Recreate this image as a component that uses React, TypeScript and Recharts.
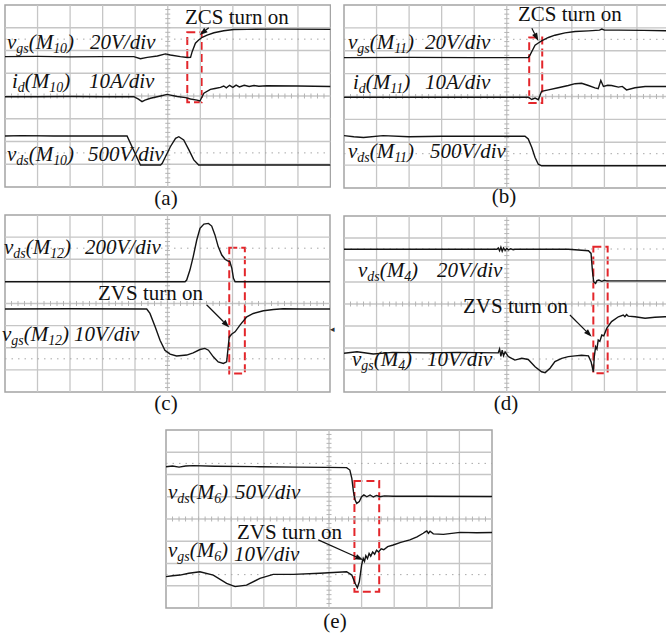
import React from 'react';
import { LineChart, Line, XAxis, YAxis, ReferenceLine, ReferenceArea } from 'recharts';

type Pt = [number, number];

// Screen units: x in horizontal divisions (0..10), y in vertical divisions (0..8, bottom = 0)

// (a) M10
const vgsM10: Pt[] = [
  [0, 5.73], [1.0, 5.74], [2.0, 5.72], [3.0, 5.73], [3.96, 5.73], [4.16, 5.64], [4.37, 5.7], [4.68, 5.76],
  [4.93, 5.85], [5.08, 5.8], [5.39, 5.73], [5.6, 5.69], [5.7, 5.7], [5.75, 5.95], [5.85, 6.32], [5.95, 6.46],
  [6.06, 6.58], [6.21, 6.68], [6.42, 6.78], [6.72, 6.87], [7.03, 6.92], [7.44, 6.93], [8.5, 6.94], [10, 6.93],
];
const idM10: Pt[] = [
  [0, 3.97], [1, 3.97], [2, 3.98], [3, 3.97], [3.96, 3.97], [4.1, 3.86], [4.21, 3.75], [4.3, 3.82], [4.47, 3.9],
  [4.78, 4.0], [4.98, 4.07], [5.29, 3.98], [5.55, 3.93], [5.7, 3.87], [5.9, 3.82], [5.99, 3.78], [6.11, 4.12],
  [6.31, 4.29], [6.45, 4.33], [6.62, 4.38], [6.72, 4.44], [6.8, 4.36], [6.9, 4.47], [7.0, 4.38], [7.1, 4.48],
  [7.2, 4.4], [7.35, 4.47], [7.5, 4.42], [7.65, 4.46], [7.8, 4.43], [8.05, 4.45], [9, 4.44], [10, 4.42],
];
const vdsM10: Pt[] = [
  [0, 2.24], [0.5, 2.26], [1.5, 2.24], [3.0, 2.24], [3.75, 2.24], [4.16, 0.97], [4.78, 0.97], [4.83, 1.04],
  [4.93, 1.33], [5.08, 1.77], [5.24, 2.14], [5.34, 2.21], [5.49, 2.07], [5.65, 1.63], [5.8, 1.19], [5.95, 0.97],
  [10, 0.97],
];

// (b) M11
const vgsM11: Pt[] = [
  [0, 5.7], [2, 5.71], [4, 5.7], [5.66, 5.7], [5.71, 5.8], [5.79, 6.02], [5.87, 6.24], [5.97, 6.34], [6.07, 6.43],
  [6.28, 6.58], [6.48, 6.68], [6.79, 6.78], [7.1, 6.84], [7.51, 6.87], [7.85, 6.9], [7.92, 6.95], [8.0, 6.9],
  [8.43, 6.9], [9.2, 6.89], [10, 6.87],
];
const idM11: Pt[] = [
  [0, 3.97], [3, 3.97], [5.66, 3.97], [5.77, 3.87], [5.87, 3.93], [5.97, 3.86], [6.07, 4.23], [6.28, 4.29],
  [6.58, 4.38], [6.89, 4.48], [7.1, 4.56], [7.3, 4.58], [7.51, 4.48], [7.71, 4.38], [7.81, 4.34], [7.89, 4.7],
  [7.97, 4.44], [8.1, 4.49], [8.22, 4.48], [8.43, 4.41], [8.55, 4.44], [8.68, 4.29], [8.94, 4.38], [9.25, 4.44],
  [10, 4.44],
];
const vdsM11: Pt[] = [
  [0, 2.29], [0.3, 2.24], [0.6, 2.21], [1.2, 2.29], [2, 2.24], [3, 2.26], [4, 2.26], [5.56, 2.26], [5.66, 2.14],
  [5.77, 1.77], [5.87, 1.33], [5.97, 1.04], [6.07, 0.97], [10, 0.97],
];

// (c) M12
const vdsM12: Pt[] = [
  [0, 4.98], [3, 4.98], [5.54, 4.98], [5.59, 5.06], [5.69, 5.51], [5.79, 6.11], [5.9, 6.87], [6.0, 7.4],
  [6.12, 7.59], [6.26, 7.62], [6.36, 7.5], [6.46, 7.1], [6.56, 6.57], [6.67, 6.19], [6.77, 6.0], [6.85, 5.93],
  [6.92, 5.89], [6.98, 5.59], [7.03, 5.14], [7.08, 4.98], [10, 4.98],
];
const vgsM12: Pt[] = [
  [0, 3.75], [2, 3.76], [4.36, 3.75], [4.46, 3.55], [4.62, 2.95], [4.77, 2.34], [4.92, 1.89], [5.08, 1.71],
  [5.28, 1.63], [5.59, 1.67], [5.79, 1.77], [6.0, 1.92], [6.15, 1.97], [6.26, 1.89], [6.41, 1.59], [6.56, 1.36],
  [6.72, 1.29], [6.82, 1.36], [6.9, 2.49], [6.98, 2.62], [7.08, 2.72], [7.23, 3.02], [7.44, 3.4], [7.64, 3.55],
  [7.95, 3.67], [8.26, 3.73], [8.56, 3.76], [9.08, 3.75], [10, 3.75],
];

// (d) M4
const vdsM4: Pt[] = [
  [0, 6.49], [2, 6.49], [4.7, 6.49], [4.74, 6.55], [4.78, 6.42], [4.82, 6.58], [4.86, 6.4], [4.9, 6.55],
  [4.95, 6.44], [5.0, 6.52], [5.05, 6.46], [5.12, 6.51], [5.2, 6.47], [5.25, 6.49], [6.89, 6.49], [7.51, 6.42],
  [7.59, 6.3], [7.63, 5.55], [7.67, 5.01], [7.73, 4.94], [7.77, 5.06], [7.83, 5.09], [7.92, 5.03], [8.0, 5.08],
  [8.07, 5.05], [10, 5.05],
];
const vgsM4: Pt[] = [
  [0, 1.76], [0.4, 1.83], [0.9, 1.73], [1.5, 1.8], [2.5, 1.78], [3.5, 1.8], [4.74, 1.78], [4.78, 1.95],
  [4.82, 1.62], [4.86, 1.9], [4.9, 1.65], [4.95, 1.82], [5.05, 1.61], [5.25, 1.45], [5.46, 1.53], [5.66, 1.48],
  [5.87, 1.15], [6.07, 0.92], [6.18, 0.88], [6.33, 1.08], [6.48, 1.38], [6.69, 1.53], [6.89, 1.61], [7.1, 1.64],
  [7.3, 1.67], [7.51, 1.64], [7.59, 1.38], [7.66, 0.92], [7.69, 1.61], [7.73, 2.06], [7.77, 1.95], [7.81, 2.36],
  [7.86, 2.3], [7.92, 2.59], [7.98, 2.55], [8.07, 2.89], [8.22, 3.2], [8.43, 3.42], [8.58, 3.5], [8.63, 3.42],
  [8.68, 3.52], [8.73, 3.45], [8.94, 3.42], [9.25, 3.35], [9.55, 3.4], [9.86, 3.42], [10, 3.43],
];

// (e) M6
const vdsM6: Pt[] = [
  [0, 6.35], [0.2, 6.38], [0.4, 6.33], [0.6, 6.38], [0.84, 6.4], [1.5, 6.37], [2.88, 6.35], [4.0, 6.33],
  [4.93, 6.32], [5.54, 6.31], [5.64, 6.2], [5.7, 5.83], [5.75, 5.23], [5.8, 4.85], [5.85, 4.7], [5.93, 4.78],
  [6.0, 5.0], [6.07, 5.08], [6.16, 5.0], [6.26, 5.08], [6.36, 4.99], [6.46, 5.06], [6.56, 5.0], [6.7, 5.04],
  [6.97, 5.02], [8, 5.02], [10, 5.01],
];
const vgsM6: Pt[] = [
  [0, 1.41], [0.2, 1.45], [0.43, 1.48], [0.7, 1.56], [1.04, 1.63], [1.45, 1.48], [1.86, 1.11], [2.12, 0.96],
  [2.47, 1.03], [2.88, 1.33], [3.29, 1.51], [3.91, 1.51], [4.72, 1.56], [5.54, 1.63], [5.7, 1.48], [5.8, 1.11],
  [5.87, 0.91], [5.93, 1.18], [6.0, 1.93], [6.05, 2.23], [6.09, 2.1], [6.13, 2.35], [6.18, 2.22], [6.23, 2.45],
  [6.28, 2.33], [6.34, 2.52], [6.4, 2.42], [6.46, 2.6], [6.52, 2.52], [6.6, 2.66], [6.68, 2.62], [6.8, 2.76],
  [6.97, 2.83], [7.2, 2.95], [7.48, 3.06], [7.7, 3.2], [7.89, 3.36], [7.95, 3.42], [8.0, 3.46], [8.05, 3.36],
  [8.1, 3.45], [8.2, 3.33], [8.51, 3.31], [9.02, 3.4], [9.53, 3.38], [10, 3.39],
];

// Highlight boxes [x1, x2, y1, y2] and annotation arrows [from, to]
const boxA = [5.6, 6.04, 3.72, 6.8];
const boxB = [5.69, 6.09, 3.72, 6.58];
const boxC = [6.9, 7.38, 0.84, 6.52];
const boxD = [7.66, 8.1, 0.85, 6.6];
const boxE = [5.78, 6.54, 0.73, 5.71];
const arrowA: Pt[] = [[6.26, 7.0], [5.98, 6.68]];
const arrowB: Pt[] = [[5.77, 6.98], [5.97, 6.43]];
const arrowC: Pt[] = [[6.21, 3.93], [6.9, 2.92]];
const arrowD: Pt[] = [[6.94, 3.5], [7.61, 2.51]];
const arrowE: Pt[] = [[4.67, 3.06], [6.05, 2.16]];

const SERIF = '"Liberation Serif", "Times New Roman", Times, serif';
const GRID = '#c6c6c6';
const TRACE = '#141414';

const toRows = (pts: Pt[]) => pts.map(([x, y]) => ({ x, y }));

// Center axis of the graticule with minor ticks every 1/5 division
function TickedLine(props: any) {
  const { x1, y1, x2, y2 } = props;
  const vertical = Math.abs(x1 - x2) < 0.5;
  const n = vertical ? 40 : 50;
  const ticks: React.ReactNode[] = [];
  for (let i = 1; i < n; i++) {
    if (vertical) {
      const y = y1 + ((y2 - y1) * i) / n;
      ticks.push(<line key={i} x1={x1 - 2.5} x2={x1 + 2.5} y1={y} y2={y} />);
    } else {
      const x = x1 + ((x2 - x1) * i) / n;
      ticks.push(<line key={i} x1={x} x2={x} y1={y1 - 2.5} y2={y1 + 2.5} />);
    }
  }
  return (
    <g stroke="#b4b4b4" strokeWidth={1}>
      <line x1={x1} y1={y1} x2={x2} y2={y2} stroke={GRID} strokeWidth={1.3} />
      {ticks}
    </g>
  );
}

function ArrowShape(props: any) {
  const { x1, y1, x2, y2 } = props;
  const a = Math.atan2(y2 - y1, x2 - x1);
  const L = 8;
  const W = 2.8;
  const bx = x2 - L * Math.cos(a);
  const by = y2 - L * Math.sin(a);
  const p1 = `${bx + W * Math.sin(a)},${by - W * Math.cos(a)}`;
  const p2 = `${bx - W * Math.sin(a)},${by + W * Math.cos(a)}`;
  return (
    <g>
      <line x1={x1} y1={y1} x2={bx} y2={by} stroke="#111" strokeWidth={1.2} />
      <polygon points={`${x2},${y2} ${p1} ${p2}`} fill="#111" />
    </g>
  );
}

type Frame = { left: number; top: number; w: number; h: number };

function Scope({ frame, traces, box, arrow }: { frame: Frame; traces: Pt[][]; box: number[]; arrow: Pt[] }) {
  return (
    <div style={{ position: 'absolute', left: frame.left - 1, top: frame.top - 1 }}>
      <LineChart width={frame.w + 2} height={frame.h + 2} margin={{ top: 1, right: 1, bottom: 1, left: 1 }}>
        <XAxis type="number" dataKey="x" domain={[0, 10]} hide allowDataOverflow />
        <YAxis type="number" domain={[0, 8]} hide allowDataOverflow />
        {[1, 2, 3, 4, 6, 7, 8, 9].map((v) => (
          <ReferenceLine key={'gx' + v} x={v} stroke={GRID} strokeWidth={1.3} />
        ))}
        {[1, 2, 3, 5, 6, 7].map((v) => (
          <ReferenceLine key={'gy' + v} y={v} stroke={GRID} strokeWidth={1.3} />
        ))}
        {[1.5, 6.5].map((v) => (
          <ReferenceLine key={'dy' + v} y={v} stroke="#a8a8a8" strokeWidth={1} strokeDasharray="1.5 5" />
        ))}
        <ReferenceLine x={5} shape={TickedLine} />
        <ReferenceLine y={4} shape={TickedLine} />
        <ReferenceArea x1={0} x2={10} y1={0} y2={8} fill="none" fillOpacity={0} stroke="#a4a4a4" strokeWidth={1.5} />
        {traces.map((t, i) => (
          <Line
            key={i}
            data={toRows(t)}
            dataKey="y"
            type="linear"
            stroke={TRACE}
            strokeWidth={1.4}
            dot={false}
            activeDot={false}
            isAnimationActive={false}
          />
        ))}
        <ReferenceArea
          x1={box[0]}
          x2={box[1]}
          y1={box[2]}
          y2={box[3]}
          fill="none"
          fillOpacity={0}
          stroke="#e3262b"
          strokeWidth={2}
          strokeDasharray="8 4"
        />
        <ReferenceLine
          segment={[
            { x: arrow[0][0], y: arrow[0][1] },
            { x: arrow[1][0], y: arrow[1][1] },
          ]}
          shape={ArrowShape}
        />
      </LineChart>
    </div>
  );
}

function Sub({ children }: { children: React.ReactNode }) {
  return <span style={{ fontSize: '0.66em', verticalAlign: '-0.3em', lineHeight: 0 }}>{children}</span>;
}

function Text({ x, base, italic = false, children }: { x: number; base: number; italic?: boolean; children: React.ReactNode }) {
  return (
    <div
      style={{
        position: 'absolute',
        left: x,
        top: base - 17.6,
        fontFamily: SERIF,
        fontSize: 21,
        lineHeight: '21px',
        fontStyle: italic ? 'italic' : 'normal',
        whiteSpace: 'nowrap',
        color: '#111',
      }}
    >
      {children}
    </div>
  );
}

function Signal({ x, base, q, sub, m }: { x: number; base: number; q: string; sub: string; m: string }) {
  return (
    <Text x={x} base={base} italic>
      {q}
      <Sub>{sub}</Sub>(M<Sub>{m}</Sub>)
    </Text>
  );
}

function Caption({ cx, base, children }: { cx: number; base: number; children: React.ReactNode }) {
  return (
    <div
      style={{
        position: 'absolute',
        left: cx - 30,
        width: 60,
        top: base - 17.6,
        textAlign: 'center',
        fontFamily: SERIF,
        fontSize: 21,
        lineHeight: '21px',
        color: '#111',
      }}
    >
      {children}
    </div>
  );
}

export default function App() {
  return (
    <div
      style={{
        position: 'absolute',
        left: 0,
        top: 0,
        width: 666,
        height: 635,
        overflow: 'hidden',
        background: '#fff',
      }}
    >
      <Scope frame={{ left: 4.5, top: 5, w: 325.5, h: 182 }} traces={[vgsM10, idM10, vdsM10]} box={boxA} arrow={arrowA} />
      <Scope frame={{ left: 344, top: 5, w: 325.5, h: 183 }} traces={[vgsM11, idM11, vdsM11]} box={boxB} arrow={arrowB} />
      <Scope frame={{ left: 5, top: 215, w: 325, h: 177 }} traces={[vdsM12, vgsM12]} box={boxC} arrow={arrowC} />
      <Scope frame={{ left: 344, top: 216, w: 325.5, h: 176 }} traces={[vdsM4, vgsM4]} box={boxD} arrow={arrowD} />
      <Scope frame={{ left: 166, top: 430, w: 326, h: 178 }} traces={[vdsM6, vgsM6]} box={boxE} arrow={arrowE} />

      {/* (a) */}
      <Text x={185} base={25}>ZCS turn on</Text>
      <Signal x={7} base={50} q="v" sub="gs" m="10" />
      <Text x={90} base={50} italic>20V/div</Text>
      <Signal x={12} base={89} q="i" sub="d" m="10" />
      <Text x={89} base={89} italic>10A/div</Text>
      <Signal x={7} base={162} q="v" sub="ds" m="10" />
      <Text x={88} base={162} italic>500V/div</Text>
      <Caption cx={166} base={206}>(a)</Caption>

      {/* (b) */}
      <Text x={518} base={22}>ZCS turn on</Text>
      <Signal x={348} base={50} q="v" sub="gs" m="11" />
      <Text x={425} base={50} italic>20V/div</Text>
      <Signal x={353} base={90} q="i" sub="d" m="11" />
      <Text x={425} base={90} italic>10A/div</Text>
      <Signal x={348} base={159} q="v" sub="ds" m="11" />
      <Text x={430} base={159} italic>500V/div</Text>
      <Caption cx={504} base={204}>(b)</Caption>

      {/* (c) */}
      <Text x={98} base={301}>ZVS turn on</Text>
      <Signal x={4} base={255} q="v" sub="ds" m="12" />
      <Text x={85} base={255} italic>200V/div</Text>
      <Signal x={2} base={342} q="v" sub="gs" m="12" />
      <Text x={74} base={342} italic>10V/div</Text>
      <div style={{ position: 'absolute', left: 330, top: 325, fontSize: 9, lineHeight: '9px', color: '#333' }}>◂</div>
      <Caption cx={166} base={411}>(c)</Caption>

      {/* (d) */}
      <Text x={463} base={314}>ZVS turn on</Text>
      <Signal x={358} base={278} q="v" sub="ds" m="4" />
      <Text x={437} base={278} italic>20V/div</Text>
      <Signal x={352} base={367} q="v" sub="gs" m="4" />
      <Text x={427} base={367} italic>10V/div</Text>
      <Caption cx={506} base={411}>(d)</Caption>

      {/* (e) */}
      <Text x={237} base={540}>ZVS turn on</Text>
      <Signal x={168} base={500} q="v" sub="ds" m="6" />
      <Text x={235} base={500} italic>50V/div</Text>
      <Signal x={168} base={558} q="v" sub="gs" m="6" />
      <Text x={234} base={562} italic>10V/div</Text>
      <Caption cx={335} base={629}>(e)</Caption>
    </div>
  );
}
